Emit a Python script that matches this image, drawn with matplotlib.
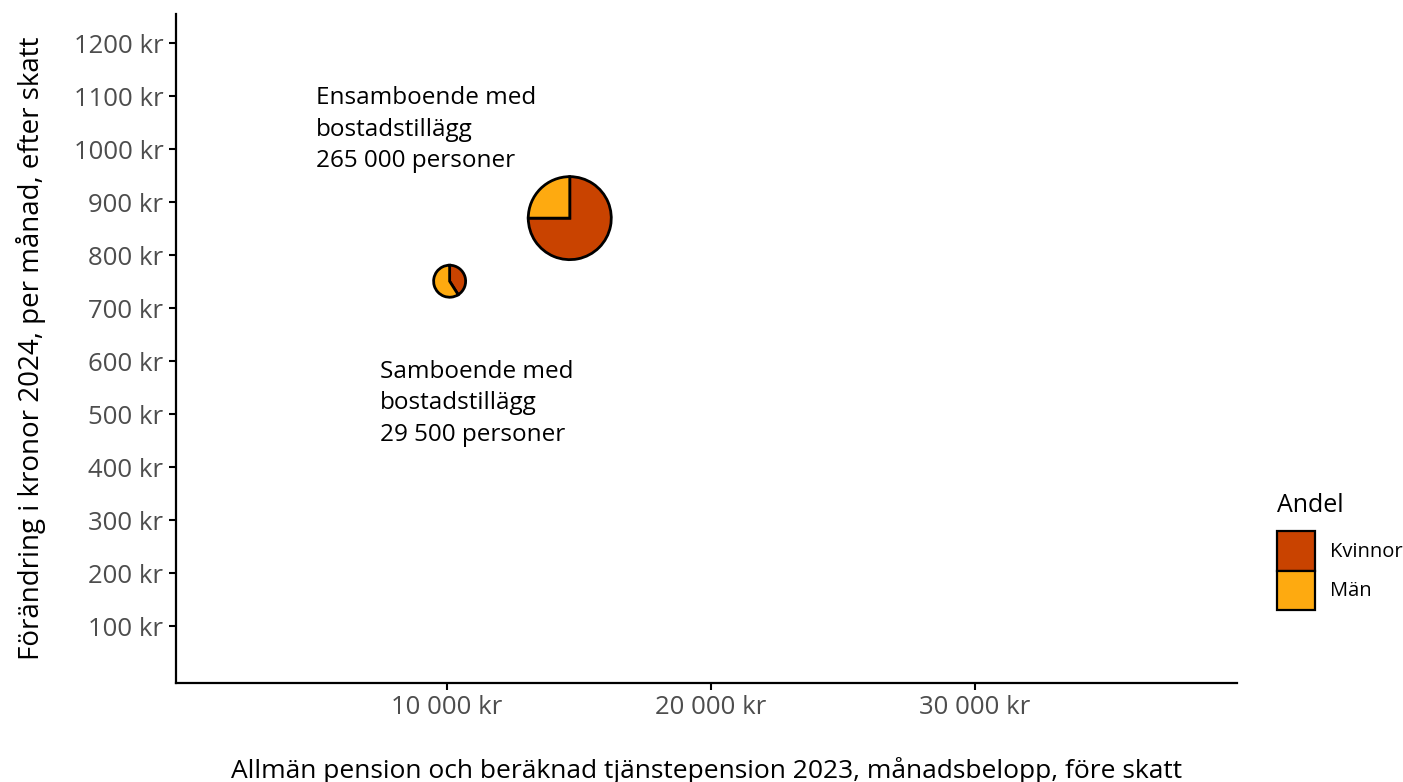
import matplotlib.pyplot as plt
from matplotlib.patches import Wedge, Patch
from matplotlib.transforms import ScaledTranslation

plt.rcParams["font.family"] = ["Open Sans", "DejaVu Sans"]

# data
groups = ["Ensamboende", "Samboende"]
persons = ["265 000", "29 500"]
pension = [14650, 10100]      # kr per month, before tax
change = [870, 751]           # kr per month, after tax
share_women = [0.75, 0.41]
legend_labels = ["Kvinnor", "Män"]

x_ticks = [10000, 20000, 30000]
x_tick_labels = ["10 000 kr", "20 000 kr", "30 000 kr"]
y_ticks = list(range(100, 1300, 100))
y_tick_labels = [f"{v} kr" for v in y_ticks]

colors = ["#C94300", "#FEAA10"]
pie_radius = [0.415, 0.16]    # inches
label_pos = [(5050, 1119), (7450, 603)]

fig = plt.figure(figsize=(14.03, 7.82), dpi=100)
ax = fig.add_axes([0.1254, 0.1266, 0.7563, 0.8554])
ax.set_xlim(-265, 39920)
ax.set_ylim(-7, 1255)

for i in range(len(groups)):
    f = share_women[i]
    trans = fig.dpi_scale_trans + ScaledTranslation(pension[i], change[i], ax.transData)
    w1 = Wedge((0, 0), pie_radius[i], 90 - 360 * f, 90, transform=trans,
               facecolor=colors[0], edgecolor="black", linewidth=2)
    w2 = Wedge((0, 0), pie_radius[i], 90, 450 - 360 * f, transform=trans,
               facecolor=colors[1], edgecolor="black", linewidth=2)
    ax.add_artist(w1)
    ax.add_artist(w2)
    lx, ly = label_pos[i]
    ax.text(lx, ly, f"{groups[i]} med\nbostadstillägg\n{persons[i]} personer",
            fontsize=17.5, va="top", ha="left", linespacing=1.42, color="black")

ax.set_xticks(x_ticks)
ax.set_xticklabels(x_tick_labels)
ax.set_yticks(y_ticks)
ax.set_yticklabels(y_tick_labels)
ax.tick_params(axis="both", length=5, width=1.5, color="black",
               labelsize=18.5, labelcolor="#4D4D4D", pad=4)

for s in ["top", "right"]:
    ax.spines[s].set_visible(False)
for s in ["left", "bottom"]:
    ax.spines[s].set_linewidth(1.6)

ax.set_xlabel("Allmän pension och beräknad tjänstepension 2023, månadsbelopp, före skatt",
              fontsize=19, labelpad=26)
ax.set_ylabel("Förändring i kronor 2024, per månad, efter skatt", fontsize=20, labelpad=20)

# legend
fig.text(0.910, 0.354, "Andel", fontsize=18, va="center", ha="left")
handles = [Patch(facecolor=c, edgecolor="black", linewidth=1.6) for c in colors]
leg = fig.legend(handles=handles, labels=legend_labels,
                 loc="upper left", bbox_to_anchor=(0.9074, 0.3256), frameon=False,
                 fontsize=14.5, handlelength=1.9, handleheight=2.62,
                 labelspacing=0.0, handletextpad=0.75, borderaxespad=0, borderpad=0.2)

fig.savefig("out.png", dpi=100)
